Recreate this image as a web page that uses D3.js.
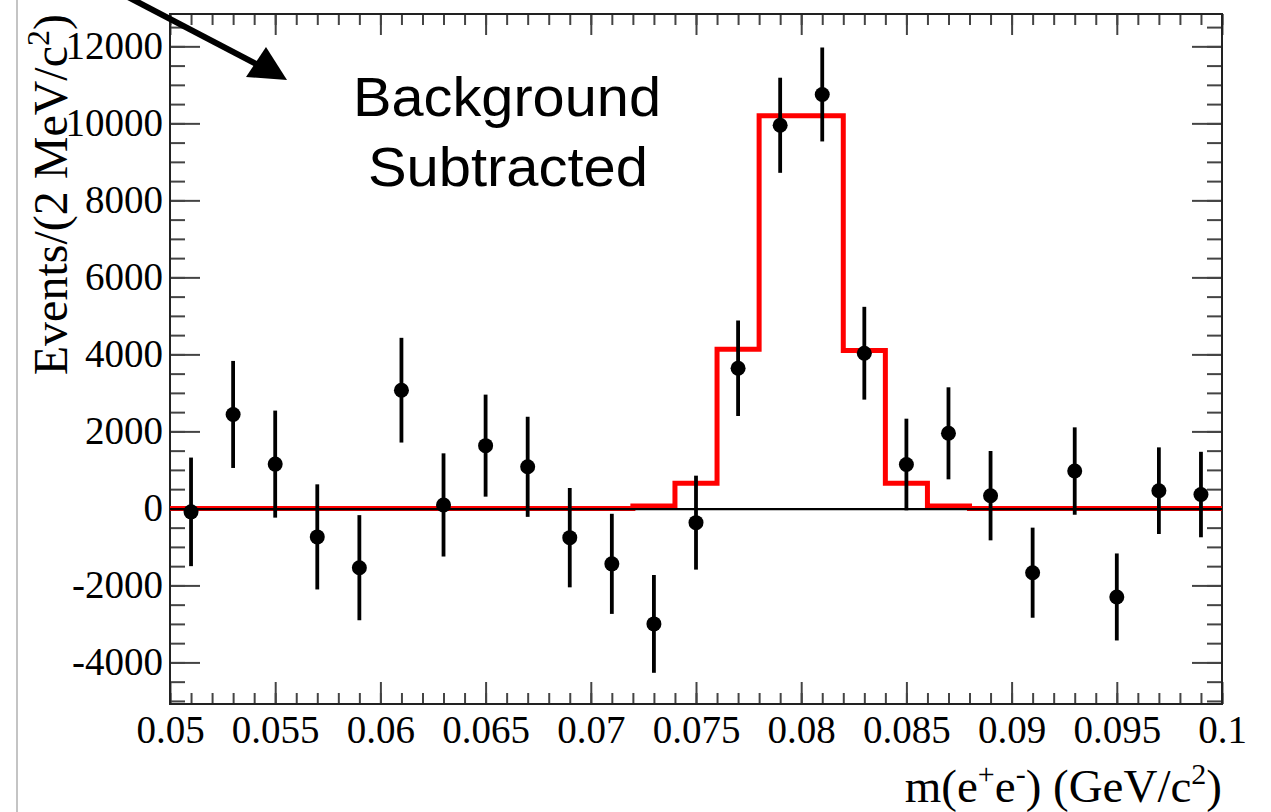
<!DOCTYPE html>
<html>
<head>
<meta charset="utf-8">
<script src="https://cdn.jsdelivr.net/npm/d3@7"></script>
<style>
  html, body { margin: 0; padding: 0; background: #fff; }
  svg { display: block; }
</style>
</head>
<body>
<svg id="chart"></svg>
<script>
/* Data */

// bin centres of the data points (GeV/c^2)
var massBins = [0.051, 0.053, 0.055, 0.057, 0.059, 0.061, 0.063, 0.065, 0.067, 0.069,
                0.071, 0.073, 0.075, 0.077, 0.079, 0.081, 0.083, 0.085, 0.087, 0.089,
                0.091, 0.093, 0.095, 0.097, 0.099];
// background subtracted events per bin
var events = [-90, 2440, 1150, -740, -1540, 3070, 90, 1630, 1080, -760,
              -1440, -3000, -370, 3640, 9950, 10750, 4030, 1140, 1950, 330,
              -1670, 970, -2300, 460, 360];
// symmetric errors
var errors = [1410, 1390, 1390, 1365, 1365, 1360, 1340, 1325, 1300, 1290,
              1300, 1270, 1220, 1240, 1235, 1220, 1205, 1190, 1195, 1160,
              1170, 1135, 1130, 1125, 1110];

// red fitted signal histogram: bin edges and contents
var fitEdges = [0.05, 0.072, 0.074, 0.076, 0.078, 0.082, 0.084, 0.086, 0.088, 0.1];
var fitValues = [0, 60, 650, 4130, 10200, 4100, 650, 60, 0];

// axis ticks
var xMajor = [0.05, 0.055, 0.06, 0.065, 0.07, 0.075, 0.08, 0.085, 0.09, 0.095, 0.1];
var xLabels = ["0.05", "0.055", "0.06", "0.065", "0.07", "0.075", "0.08", "0.085", "0.09", "0.095", "0.1"];
var yMajor = [-4000, -2000, 0, 2000, 4000, 6000, 8000, 10000, 12000];
var yLabels = ["-4000", "-2000", "0", "2000", "4000", "6000", "8000", "10000", "12000"];

/* Layout */
var W = 1271, H = 812;
var frame = { left: 170, right: 1222, top: 14, bottom: 704 };
var serif = "'Liberation Serif', 'Times New Roman', serif";
var sans = "'Liberation Sans', Arial, Helvetica, sans-serif";

var svg = d3.select("#chart").attr("width", W).attr("height", H);

var x = d3.scaleLinear().domain([0.05, 0.1]).range([frame.left, frame.right]);
var y = d3.scaleLinear().domain([-5080, 12840]).range([frame.bottom, frame.top]);

var xMinor = d3.range(50, 101).map(function(d){ return d / 1000; });
var yMinor = d3.range(-5000, 12501, 500);

// grey page edge on the left
svg.append("line")
    .attr("x1", 17).attr("x2", 17).attr("y1", 0).attr("y2", H)
    .style("stroke", "#b0b0b0").style("stroke-width", 1.5);

// tick helper: draws one d3 axis with no domain path
function ticks(axis, tx, ty) {
    var g = svg.append("g")
        .attr("transform", "translate(" + tx + "," + ty + ")")
        .call(axis);
    g.select(".domain").remove();
    g.selectAll(".tick line").style("stroke", "#444").style("stroke-width", 2);
    return g;
}

// minor ticks on all four sides
ticks(d3.axisBottom(x).tickValues(xMinor).tickSize(-11).tickFormat(""), 0, frame.bottom);
ticks(d3.axisTop(x).tickValues(xMinor).tickSize(-11).tickFormat(""), 0, frame.top);
ticks(d3.axisLeft(y).tickValues(yMinor).tickSize(-15).tickFormat(""), frame.left, 0);
ticks(d3.axisRight(y).tickValues(yMinor).tickSize(-15).tickFormat(""), frame.right, 0);

// major ticks with labels
var xb = ticks(d3.axisBottom(x).tickValues(xMajor).tickSize(-22).tickPadding(11)
    .tickFormat(function(d, i){ return xLabels[i]; }), 0, frame.bottom);
ticks(d3.axisTop(x).tickValues(xMajor).tickSize(-21).tickFormat(""), 0, frame.top);
var yl = ticks(d3.axisLeft(y).tickValues(yMajor).tickSize(-30).tickPadding(7)
    .tickFormat(function(d, i){ return yLabels[i]; }), frame.left, 0);
ticks(d3.axisRight(y).tickValues(yMajor).tickSize(-30).tickFormat(""), frame.right, 0);

xb.selectAll("text").style("font-family", serif).style("font-size", "39px").style("fill", "#000");
yl.selectAll("text").style("font-family", serif).style("font-size", "39px").style("fill", "#000");

// frame
svg.append("rect")
    .attr("x", frame.left).attr("y", frame.top)
    .attr("width", frame.right - frame.left).attr("height", frame.bottom - frame.top)
    .style("fill", "none").style("stroke", "#222").style("stroke-width", 2);

// red fit histogram
var stepPts = fitValues.map(function(v, i){ return [fitEdges[i], v]; });
stepPts.push([fitEdges[fitEdges.length - 1], 0]);
svg.append("path")
    .datum(stepPts)
    .attr("d", d3.line()
        .x(function(d){ return x(d[0]); })
        .y(function(d){ return y(d[1]); })
        .curve(d3.curveStepAfter))
    .style("fill", "none").style("stroke", "#ff0000").style("stroke-width", 5)
    .style("stroke-linejoin", "miter");

// zero line
svg.append("line")
    .attr("x1", frame.left).attr("x2", frame.right)
    .attr("y1", y(0) + 0.8).attr("y2", y(0) + 0.8)
    .style("stroke", "#000").style("stroke-width", 2.2);

// data points with error bars
var pts = massBins.map(function(m, i){ return { m: m, v: events[i], e: errors[i] }; });

svg.selectAll("line.err")
    .data(pts)
    .enter().append("line")
    .attr("class", "err")
    .attr("x1", function(d){ return x(d.m); })
    .attr("x2", function(d){ return x(d.m); })
    .attr("y1", function(d){ return y(d.v + d.e); })
    .attr("y2", function(d){ return y(d.v - d.e); })
    .style("stroke", "#000").style("stroke-width", 3.8);

svg.selectAll("circle.pt")
    .data(pts)
    .enter().append("circle")
    .attr("class", "pt")
    .attr("cx", function(d){ return x(d.m); })
    .attr("cy", function(d){ return y(d.v); })
    .attr("r", 7.5)
    .style("fill", "#000");

// annotation text
var note = svg.append("g").style("font-family", sans).style("font-size", "56px").style("fill", "#000")
    .attr("text-anchor", "middle");
note.append("text").attr("x", 507).attr("y", 116)
    .attr("textLength", 308).attr("lengthAdjust", "spacingAndGlyphs").text("Background");
note.append("text").attr("x", 508).attr("y", 186)
    .attr("textLength", 280).attr("lengthAdjust", "spacingAndGlyphs").text("Subtracted");

// arrow
svg.append("line")
    .attr("x1", 128).attr("y1", -3).attr("x2", 262).attr("y2", 67)
    .style("stroke", "#000").style("stroke-width", 6);
svg.append("path")
    .attr("d", "M287,80 L246,77 L266,47 Z")
    .style("fill", "#000");

// y axis title
var yt = svg.append("text")
    .attr("transform", "translate(67," + frame.top + ") rotate(-90)")
    .attr("text-anchor", "end")
    .style("font-family", serif).style("font-size", "48px").style("fill", "#000");
yt.append("tspan").text("Events/(2 MeV/c");
yt.append("tspan").attr("dy", -18).style("font-size", "32px").text("2");
yt.append("tspan").attr("dy", 18).text(")");

// x axis title
var xt = svg.append("text")
    .attr("x", frame.right).attr("y", 802)
    .attr("text-anchor", "end")
    .style("font-family", serif).style("font-size", "47px").style("fill", "#000");
xt.append("tspan").text("m(e");
xt.append("tspan").attr("dy", -18).style("font-size", "30px").text("+");
xt.append("tspan").attr("dy", 18).text("e");
xt.append("tspan").attr("dy", -18).style("font-size", "30px").text("-");
xt.append("tspan").attr("dy", 18).text(") (GeV/c");
xt.append("tspan").attr("dy", -18).style("font-size", "30px").text("2");
xt.append("tspan").attr("dy", 18).text(")");
</script>
</body>
</html>
